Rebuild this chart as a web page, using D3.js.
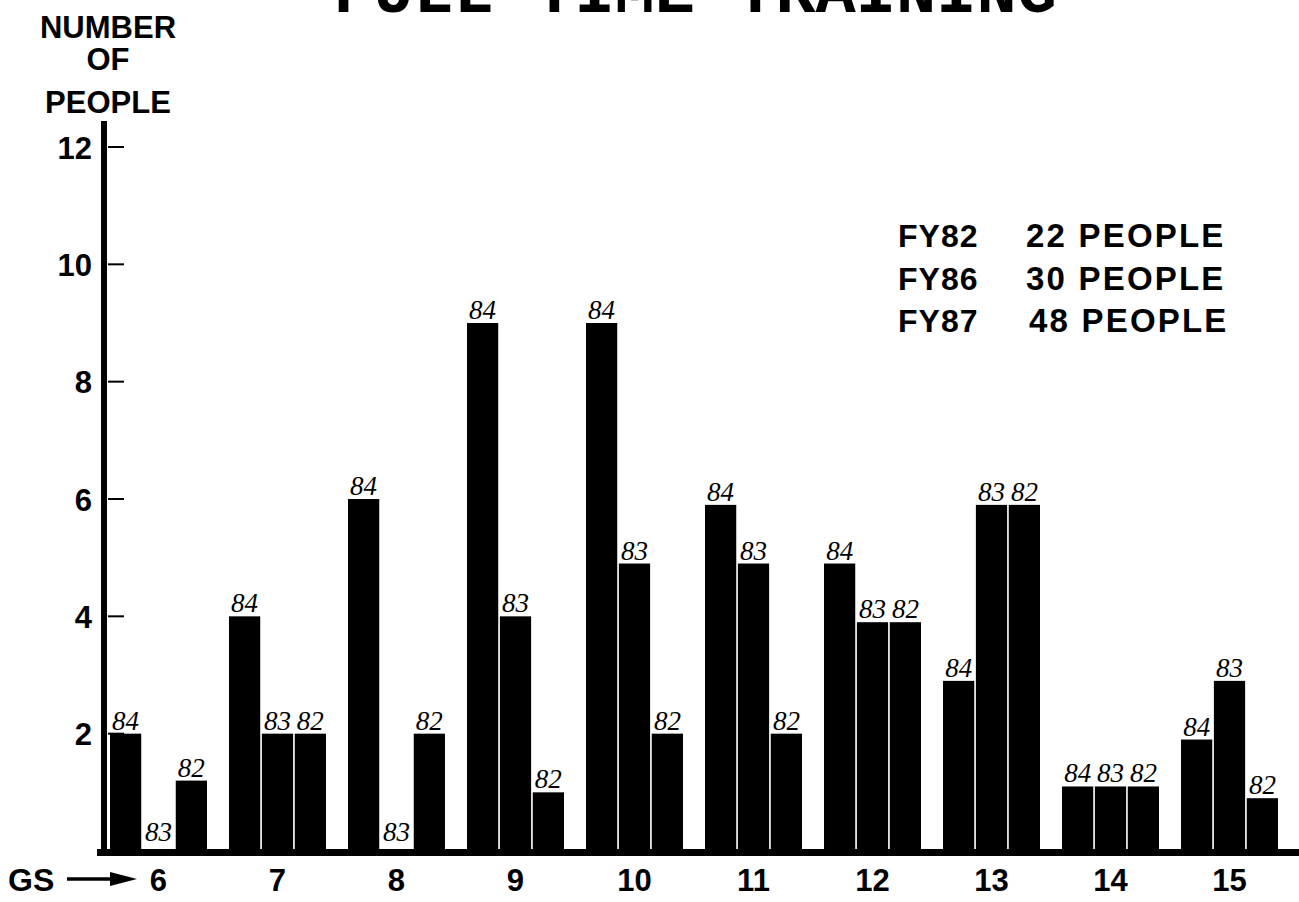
<!DOCTYPE html>
<html>
<head>
<meta charset="utf-8">
<script src="https://cdn.jsdelivr.net/npm/d3@7"></script>
<style>
  body { margin: 0; background: #fff; }
  svg { display: block; }
</style>
</head>
<body>
<script>
// Data
const gsLevels = ["6", "7", "8", "9", "10", "11", "12", "13", "14", "15"];
const seriesKeys = ["84", "83", "82"];
const values84 = [2, 4, 6, 9, 9, 5.9, 4.9, 2.9, 1.1, 1.9];
const values83 = [0, 2, 0, 4, 4.9, 4.9, 3.9, 5.9, 1.1, 2.9];
const values82 = [1.2, 2, 2, 1, 2, 2, 3.9, 5.9, 1.1, 0.9];
const yTicks = [2, 4, 6, 8, 10, 12];
const legendYears = ["FY82", "FY86", "FY87"];
const legendCounts = ["22 PEOPLE", "30 PEOPLE", "48 PEOPLE"];

const width = 1299, height = 902;
const sans = "'Liberation Sans', Arial, Helvetica, sans-serif";

const svg = d3.select("body").append("svg")
    .attr("width", width)
    .attr("height", height);

// Scales
const x0 = d3.scaleBand()
    .domain(gsLevels)
    .range([110, 1278])
    .paddingInner(0.185)
    .paddingOuter(0);

const x1 = d3.scaleBand()
    .domain(seriesKeys)
    .range([0, x0.bandwidth()])
    .paddingInner(0.05);

const y = d3.scaleLinear()
    .domain([0, 12])
    .range([851, 147]);

// build rows for the bars
const rows = [];
gsLevels.forEach((g, i) => {
    rows.push({ gs: g, key: "84", value: values84[i] });
    rows.push({ gs: g, key: "83", value: values83[i] });
    rows.push({ gs: g, key: "82", value: values82[i] });
});

// Title (cut off at top edge, as in the scan)
svg.append("text")
    .attr("x", 695)
    .attr("y", 12)
    .attr("text-anchor", "middle")
    .style("font-family", "'Liberation Mono', 'Courier New', monospace")
    .style("font-weight", "bold")
    .style("font-size", "67px")
    .style("fill", "#000")
    .text("FULL TIME TRAINING");

// Y axis title
["NUMBER", "OF", "PEOPLE"].forEach((t, i) => {
    svg.append("text")
        .attr("x", 108)
        .attr("y", [38, 70, 113][i])
        .attr("text-anchor", "middle")
        .style("font-family", sans)
        .style("font-weight", "bold")
        .style("font-size", "31px")
        .text(t);
});

// Bars
svg.append("g")
    .selectAll("rect")
    .data(rows)
    .join("rect")
    .attr("x", d => x0(d.gs) + x1(d.key))
    .attr("y", d => y(d.value))
    .attr("width", x1.bandwidth())
    .attr("height", d => y(0) - y(d.value))
    .attr("fill", "#000");

// Hand written year labels above bars
svg.append("g")
    .selectAll("text")
    .data(rows)
    .join("text")
    .attr("x", d => x0(d.gs) + x1(d.key) + x1.bandwidth() / 2)
    .attr("y", d => d.value === 0 ? y(0) - 10 : y(d.value) - 4)
    .attr("text-anchor", "middle")
    .style("font-family", "'Liberation Serif', 'DejaVu Serif', serif")
    .style("font-style", "italic")
    .style("font-size", "27px")
    .text(d => d.key);

// Y axis: labels on the left, small ticks on the right
const yAxis = svg.append("g")
    .attr("transform", "translate(92,0)")
    .call(d3.axisLeft(y).tickValues(yTicks).tickSize(0).tickPadding(0));
yAxis.select(".domain").remove();
yAxis.selectAll("text")
    .style("font-family", sans)
    .style("font-weight", "bold")
    .style("font-size", "31px")
    .attr("dy", "0.36em");

svg.append("g")
    .selectAll("line")
    .data(yTicks)
    .join("line")
    .attr("x1", 108)
    .attr("x2", 124)
    .attr("y1", d => y(d))
    .attr("y2", d => y(d))
    .attr("stroke", "#000")
    .attr("stroke-width", 2);

// axis lines
svg.append("rect")
    .attr("x", 101).attr("y", 121)
    .attr("width", 6).attr("height", 735)
    .attr("fill", "#000");
svg.append("rect")
    .attr("x", 97).attr("y", 849)
    .attr("width", width - 97).attr("height", 7)
    .attr("fill", "#000");

// X axis labels
const xAxis = svg.append("g")
    .attr("transform", "translate(0,880)")
    .call(d3.axisBottom(x0).tickSize(0).tickPadding(0));
xAxis.select(".domain").remove();
xAxis.selectAll("text")
    .style("font-family", sans)
    .style("font-weight", "bold")
    .style("font-size", "31px")
    .attr("y", 0)
    .attr("dy", "0.36em");

// GS arrow
svg.append("text")
    .attr("x", 8)
    .attr("y", 891)
    .style("font-family", sans)
    .style("font-weight", "bold")
    .style("font-size", "32px")
    .text("GS");
svg.append("line")
    .attr("x1", 67).attr("x2", 118)
    .attr("y1", 879).attr("y2", 879)
    .attr("stroke", "#000").attr("stroke-width", 3.5);
svg.append("path")
    .attr("d", "M110,872 L137,879 L110,886 Z")
    .attr("fill", "#000");

// Legend
const legend = svg.append("g");
legendYears.forEach((t, i) => {
    legend.append("text")
        .attr("x", 898)
        .attr("y", 247 + i * 42.5)
        .style("font-family", sans)
        .style("font-weight", "bold")
        .style("font-size", "32px")
        .style("letter-spacing", "1px")
        .text(t);
    legend.append("text")
        .attr("x", i === 2 ? 1029 : 1026)
        .attr("y", 247 + i * 42.5)
        .style("font-family", sans)
        .style("font-weight", "bold")
        .style("font-size", "33px")
        .style("letter-spacing", "2.2px")
        .text(legendCounts[i]);
});
</script>
</body>
</html>
